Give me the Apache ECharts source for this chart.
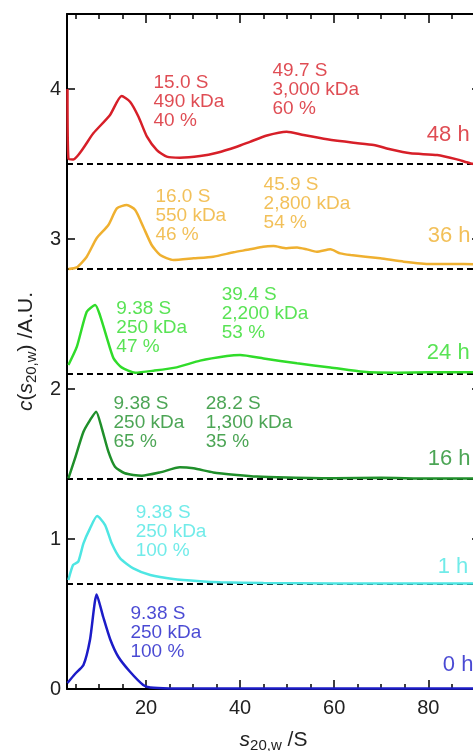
<!DOCTYPE html>
<html>
<head>
<meta charset="utf-8">
<script src="https://cdn.jsdelivr.net/npm/echarts@6/dist/echarts.min.js"></script>
<style>
  html, body { margin: 0; padding: 0; overflow: hidden; background: #fff; }
  /* the plot runs past the right edge of the window, as in the figure */
  #chart { width: 500px; height: 751px; }
</style>
</head>
<body>
<div id="chart"></div>
<script>
// axis range / ticks
var xMin = 3.2, xMax = 91;
var xMajor = [20, 40, 60, 80];
var yMajor = [0, 1, 2, 3, 4];

// vertical offset of each trace (A.U.)
var offsets = [0, 0.7, 1.4, 2.1, 2.8, 3.5];
var hourLabels = ['0 h', '1 h', '16 h', '24 h', '36 h', '48 h'];
var hourLabelS = [83.2, 82.1, 80.0, 79.8, 80.0, 79.8];
var hourLabelY = [0.16, 0.81, 1.53, 2.24, 3.02, 3.69];

// c(s) traces, s in S, c above their own baseline
var s0h = [3.3, 4.9, 6.7, 8.1, 9.5, 10.9, 12.4, 14.1, 16.6, 19.4, 20.9, 25, 40, 60, 80, 91];
var c0h = [0.04, 0.10, 0.16, 0.33, 0.63, 0.48, 0.33, 0.215, 0.115, 0.027, 0.01, 0.004, 0.003, 0.003, 0.003, 0.003];

var s1h = [3.5, 4.5, 5.6, 6.7, 8.1, 9.6, 11.3, 12.7, 14.5, 17.3, 20.9, 25.8, 31.5, 35.8, 45, 60, 80, 91];
var c1h = [0.027, 0.127, 0.149, 0.271, 0.371, 0.453, 0.393, 0.271, 0.171, 0.104, 0.06, 0.033, 0.018, 0.011, 0.006, 0.004, 0.003, 0.003];

var s16h = [3.5, 4.9, 6.7, 8.1, 9.4, 10.6, 12.0, 13.4, 15.5, 19.1, 23.0, 27.2, 30.1, 34.3, 39.3, 43.6, 50, 60, 70, 80, 91];
var c16h = [0.004, 0.138, 0.315, 0.393, 0.449, 0.338, 0.182, 0.082, 0.038, 0.022, 0.044, 0.078, 0.071, 0.044, 0.027, 0.016, 0.01, 0.005, 0.008, 0.003, 0.003];

var s24h = [3.5, 5.3, 7.4, 9.2, 10.2, 11.6, 13.1, 14.8, 17.7, 21.6, 26.5, 31.5, 37.2, 40, 45, 52.1, 59.2, 66.2, 73.3, 80, 91];
var c24h = [0.06, 0.182, 0.415, 0.46, 0.393, 0.249, 0.104, 0.044, 0.009, 0.022, 0.044, 0.089, 0.12, 0.127, 0.104, 0.071, 0.044, 0.015, 0.009, 0.012, 0.012];

var s36h = [3.5, 5.3, 7.4, 9.5, 12.0, 13.8, 15.9, 17.7, 19.4, 21.2, 23.0, 25.8, 30.1, 34.3, 38.6, 42.1, 44.9, 47.1, 49.9, 52.1, 54.2, 56.3, 59.2, 61.3, 63.5, 69.8, 74.8, 80.4, 87.5, 91];
var c36h = [0.0, 0.011, 0.082, 0.205, 0.293, 0.404, 0.427, 0.393, 0.282, 0.16, 0.093, 0.06, 0.071, 0.082, 0.111, 0.131, 0.149, 0.153, 0.138, 0.144, 0.131, 0.115, 0.131, 0.104, 0.093, 0.071, 0.049, 0.033, 0.033, 0.03];

var s48h = [3.3, 3.5, 4.5, 8.8, 12.35, 14.8, 16.6, 18.4, 20.2, 22.3, 24.4, 27.2, 31.5, 35.1, 39.3, 42.1, 45.7, 49.9, 53.5, 58.5, 64.1, 68.4, 71.9, 76.2, 81.9, 86.1, 89.0, 91];
var c48h = [0.5, 0.035, 0.03, 0.205, 0.327, 0.453, 0.415, 0.315, 0.182, 0.093, 0.049, 0.042, 0.053, 0.075, 0.115, 0.148, 0.19, 0.215, 0.193, 0.165, 0.142, 0.127, 0.098, 0.071, 0.06, 0.031, 0.004, 0.0];

// peak notes: text, anchor (top-left) in data units, trace index
var noteText = [
  '9.38 S\n250 kDa\n100 %',
  '9.38 S\n250 kDa\n100 %',
  '9.38 S\n250 kDa\n65 %', '28.2 S\n1,300 kDa\n35 %',
  '9.38 S\n250 kDa\n47 %', '39.4 S\n2,200 kDa\n53 %',
  '16.0 S\n550 kDa\n46 %', '45.9 S\n2,800 kDa\n54 %',
  '15.0 S\n490 kDa\n40 %', '49.7 S\n3,000 kDa\n60 %'
];
var noteS = [16.8, 17.9, 13.2, 32.8, 13.8, 36.2, 22.1, 45.1, 21.7, 47.0];
var noteC = [0.563, 1.237, 1.963, 1.963, 2.597, 2.69, 3.343, 3.423, 4.10, 4.18];
var noteTrace = [0, 1, 2, 2, 3, 3, 4, 4, 5, 5];

var traceS = [s0h, s1h, s16h, s24h, s36h, s48h];
var traceC = [c0h, c1h, c16h, c24h, c36h, c48h];
var colors = ['#1c1cc8', '#4ee6e3', '#1f8f2a', '#30dc2a', '#efb030', '#d71f28'];

var SANS = "'Liberation Sans', Arial, sans-serif";

var chart = echarts.init(document.getElementById('chart'));

var series = [];

// dashed baselines
for (var i = 1; i < offsets.length; i++) {
  series.push({
    type: 'line',
    silent: true,
    symbol: 'none',
    data: [[xMin, offsets[i]], [xMax, offsets[i]]],
    lineStyle: { color: '#000', width: 2, type: [6, 4] },
    z: 2
  });
}

// traces
for (var k = 0; k < traceS.length; k++) {
  var pts = [];
  for (var j = 0; j < traceS[k].length; j++) {
    pts.push([traceS[k][j], traceC[k][j] + offsets[k]]);
  }
  series.push({
    type: 'line',
    silent: true,
    symbol: 'none',
    smooth: 0.2,
    data: pts,
    lineStyle: { color: colors[k], width: 2.5 },
    z: 3
  });
}

// peak notes
var notes = [];
for (var n = 0; n < noteText.length; n++) {
  notes.push({
    value: [noteS[n], noteC[n]],
    label: { formatter: noteText[n], color: colors[noteTrace[n]] }
  });
}
series.push({
  type: 'scatter',
  silent: true,
  symbolSize: 1,
  itemStyle: { color: 'rgba(0,0,0,0)' },
  data: notes,
  label: {
    show: true, position: [0, 0], align: 'left', verticalAlign: 'top',
    fontSize: 19, lineHeight: 19, fontFamily: SANS
  },
  z: 5
});

// hour labels at right
var hours = [];
for (var h = 0; h < hourLabels.length; h++) {
  hours.push({
    value: [hourLabelS[h], hourLabelY[h]],
    label: { formatter: hourLabels[h], color: colors[h] }
  });
}
series.push({
  type: 'scatter',
  silent: true,
  symbolSize: 1,
  itemStyle: { color: 'rgba(0,0,0,0)' },
  data: hours,
  label: {
    show: true, position: [0, 0], align: 'left', verticalAlign: 'middle',
    fontSize: 22, fontFamily: SANS
  },
  z: 5
});

var axisLine = { onZero: false, lineStyle: { color: '#000', width: 2 } };
var tickStyle = { color: '#000', width: 1.5 };

var option = {
  animation: false,
  textStyle: { fontFamily: SANS },
  grid: { left: 67, right: 20, top: 14, bottom: 62, containLabel: false, outerBoundsMode: 'none' },
  xAxis: [{
    type: 'value',
    position: 'bottom',
    min: xMin,
    max: xMax,
    splitLine: { show: false },
    axisLine: axisLine,
    axisTick: { inside: true, length: 9, customValues: xMajor, lineStyle: tickStyle },
    minorTick: { show: true, splitNumber: 4, length: 5, lineStyle: tickStyle },
    axisLabel: { customValues: xMajor, fontSize: 20, color: '#222', margin: 9, fontFamily: SANS },
    name: '{i|s}{sub|20,w}{n| /S}',
    nameLocation: 'middle',
    nameGap: 38,
    nameTextStyle: {
      color: '#222',
      rich: {
        i: { fontSize: 21, fontStyle: 'italic', lineHeight: 26, fontFamily: SANS, color: '#222' },
        n: { fontSize: 21, lineHeight: 26, fontFamily: SANS, color: '#222' },
        sub: { fontSize: 15, lineHeight: 15, verticalAlign: 'bottom', fontFamily: SANS, color: '#222' }
      }
    }
  }, {
    type: 'value',
    position: 'top',
    min: xMin,
    max: xMax,
    splitLine: { show: false },
    axisLine: axisLine,
    axisTick: { inside: true, length: 9, customValues: xMajor, lineStyle: tickStyle },
    minorTick: { show: true, splitNumber: 4, length: 5, lineStyle: tickStyle },
    axisLabel: { show: false }
  }],
  yAxis: [{
    type: 'value',
    position: 'left',
    min: 0,
    max: 4.5,
    splitLine: { show: false },
    axisLine: axisLine,
    axisTick: { inside: true, length: 8, customValues: yMajor, lineStyle: tickStyle },
    axisLabel: { customValues: yMajor, fontSize: 20, color: '#222', margin: 6, fontFamily: SANS },
    name: '{i|c}{n|(}{i|s}{sub|20,w}{n|) /A.U.}',
    nameLocation: 'middle',
    nameGap: 27,
    nameTextStyle: {
      color: '#222',
      rich: {
        i: { fontSize: 21, fontStyle: 'italic', lineHeight: 26, fontFamily: SANS, color: '#222' },
        n: { fontSize: 21, lineHeight: 26, fontFamily: SANS, color: '#222' },
        sub: { fontSize: 15, lineHeight: 15, verticalAlign: 'bottom', fontFamily: SANS, color: '#222' }
      }
    }
  }, {
    type: 'value',
    position: 'right',
    min: 0,
    max: 4.5,
    splitLine: { show: false },
    axisLine: axisLine,
    axisTick: { inside: true, length: 8, customValues: yMajor, lineStyle: tickStyle },
    axisLabel: { show: false }
  }],
  series: series
};

chart.setOption(option);
</script>
</body>
</html>
